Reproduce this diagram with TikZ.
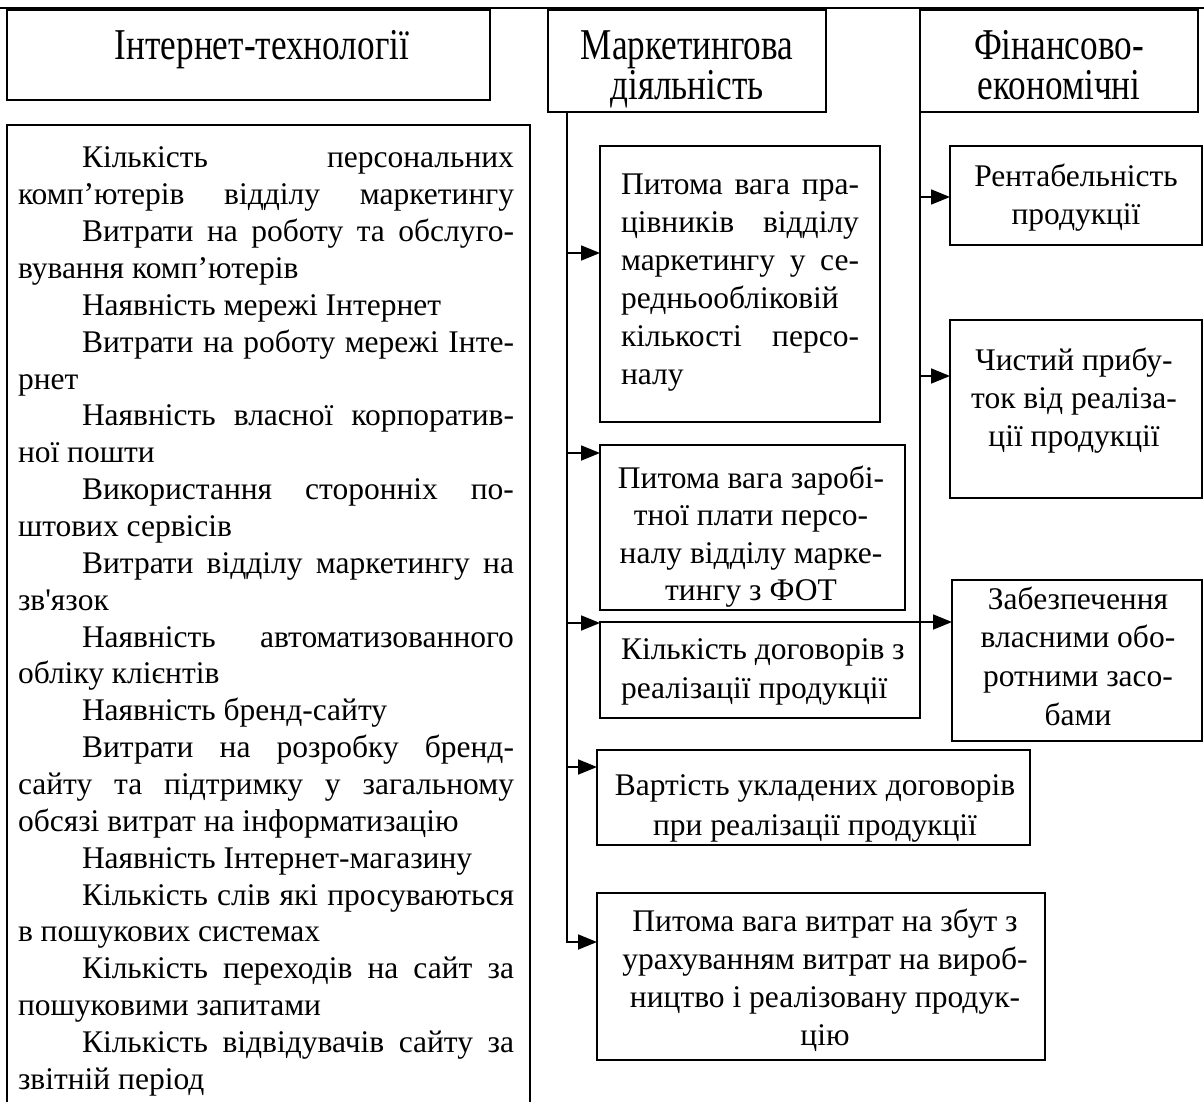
\documentclass[tikz,border=0pt]{standalone}
\usepackage{fontspec}
\setmainfont{Liberation Serif}[Ligatures=TeXOff]
\newfontfamily\ttlfont{Liberation Serif}[FakeStretch=0.8]
\usetikzlibrary{arrows.meta}
\newcommand\mytj[1]{\hbox to \hsize{#1}}
\newcommand\mytij[1]{\hbox to \hsize{\hskip\parindent #1}}
\newcommand\mytl[1]{\hbox to \hsize{#1\hfil}}
\newcommand\mytil[1]{\hbox to \hsize{\hskip\parindent #1\hfil}}
\newcommand\mytc[1]{\hbox to \hsize{\hfil #1\hfil}}
\newcommand\myblk[3]{\vtop{\hsize=#1\baselineskip=#2\lineskiplimit=-1000pt\lineskip=0pt\parindent=64pt #3}}
\begin{document}
\begin{tikzpicture}[x=1pt,y=-1pt,
  box/.style={draw, line width=1.8pt, inner sep=0pt, outer sep=0pt, anchor=north west},
  txt/.style={inner sep=0pt, outer sep=0pt, font=\fontsize{31.5}{38}\selectfont},
  ttl/.style={inner sep=0pt, outer sep=0pt, font=\ttlfont\fontsize{44}{40}\selectfont},
  arr/.style={line width=1.8pt, -{Triangle[length=19pt,width=15pt]}},
  ln/.style={line width=1.8pt}]
\useasboundingbox (0,0) rectangle (1204,1102);
\draw[line width=2.8pt] (0,8) -- (1204,8);
% title boxes
\node[box, minimum width=483pt, minimum height=90pt] (it) at (7,10) {};
\node[box, minimum width=278pt, minimum height=102pt] (mk) at (548,10) {};
\node[box, minimum width=278pt, minimum height=102pt] (fn) at (920,10) {};
\node[ttl, anchor=base] (itt) at (262,60) {Інтернет-технології};
\node[ttl, anchor=base] (mkt) at (687,60) {\myblk{270pt}{40pt}{\mytc{Маркетингова}\mytc{діяльність}}};
\node[ttl, anchor=base] (fnt) at (1059,60) {\myblk{270pt}{40pt}{\mytc{Фінансово-}\mytc{економічні}}};
% left box
\draw[ln] (7,1104) -- (7,125) -- (530,125) -- (530,1104);
\node[txt, anchor=base west] (itx) at (18,168) {\myblk{496pt}{36.85pt}{%
\mytij{Кількість персональних}
\mytj{комп’ютерів відділу маркетингу}
\mytij{Витрати на роботу та обслуго-}
\mytl{вування комп’ютерів}
\mytil{Наявність мережі Інтернет}
\mytij{Витрати на роботу мережі Інте-}
\mytl{рнет}
\mytij{Наявність власної корпоратив-}
\mytl{ної пошти}
\mytij{Використання сторонніх по-}
\mytl{штових сервісів}
\mytij{Витрати відділу маркетингу на}
\mytl{зв'язок}
\mytij{Наявність автоматизованного}
\mytl{обліку клієнтів}
\mytil{Наявність бренд-сайту}
\mytij{Витрати на розробку бренд-}
\mytj{сайту та підтримку у загальному}
\mytl{обсязі витрат на інформатизацію}
\mytil{Наявність Інтернет-магазину}
\mytij{Кількість слів які просуваються}
\mytl{в пошукових системах}
\mytij{Кількість переходів на сайт за}
\mytl{пошуковими запитами}
\mytij{Кількість відвідувачів сайту за}
\mytl{звітній період}}};
% marketing column boxes
\node[box, minimum width=280pt, minimum height=276pt] (m1) at (600,146) {};
\node[box, minimum width=305pt, minimum height=165pt] (m2) at (600,445) {};
\node[box, minimum width=320pt, minimum height=96pt] (m3) at (600,622) {};
\node[box, minimum width=433pt, minimum height=95pt] (m4) at (597,750) {};
\node[box, minimum width=448pt, minimum height=167pt] (m5) at (597,893) {};
\node[txt, anchor=base west] (m1t) at (621,194) {\myblk{238pt}{38pt}{%
\mytj{Питома вага пра-}\mytj{цівників відділу}\mytj{маркетингу у се-}\mytl{редньообліковій}\mytj{кількості персо-}\mytl{налу}}};
\node[txt, anchor=base] (m2t) at (751,488) {\myblk{300pt}{37.5pt}{%
\mytc{Питома вага заробі-}\mytc{тної плати персо-}\mytc{налу відділу марке-}\mytc{тингу з ФОТ}}};
\node[txt, anchor=base west] (m3t) at (621,659) {\myblk{295pt}{39pt}{%
\mytl{Кількість договорів з}\mytl{реалізації продукції}}};
\node[txt, anchor=base] (m4t) at (815,795) {\myblk{425pt}{40pt}{%
\mytc{Вартість укладених договорів}\mytc{при реалізації продукції}}};
\node[txt, anchor=base] (m5t) at (825,931) {\myblk{445pt}{38pt}{%
\mytc{Питома вага витрат на збут з}\mytc{урахуванням витрат на вироб-}\mytc{ництво і реалізовану продук-}\mytc{цію}}};
% finance column boxes
\node[box, minimum width=252pt, minimum height=99pt] (f1) at (950,146) {};
\node[box, minimum width=252pt, minimum height=178pt] (f2) at (950,320) {};
\node[box, minimum width=250pt, minimum height=161pt] (f3) at (952,580) {};
\node[txt, anchor=base] (f1t) at (1076,186) {\myblk{250pt}{38pt}{%
\mytc{Рентабельність}\mytc{продукції}}};
\node[txt, anchor=base] (f2t) at (1074,370) {\myblk{250pt}{38pt}{%
\mytc{Чистий прибу-}\mytc{ток від реаліза-}\mytc{ції продукції}}};
\node[txt, anchor=base] (f3t) at (1078,609) {\myblk{250pt}{38.7pt}{%
\mytc{Забезпечення}\mytc{власними обо-}\mytc{ротними засо-}\mytc{бами}}};
% connectors
\coordinate (mtr) at (567,942);
\coordinate (a1) at (567,253);
\coordinate (a2) at (567,453);
\coordinate (a3) at (567,623);
\coordinate (a4) at (567,767);
\draw[arr] (mk.south -| mtr) |- (m5.west |- mtr);
\draw[arr] (a1) -- (a1 -| m1.west);
\draw[arr] (a2) -- (a2 -| m2.west);
\draw[arr] (a3) -- (a3 -| m3.west);
\draw[arr] (a4) -- (a4 -| m4.west);
\coordinate (ftr) at (920,622);
\coordinate (b1) at (920,197);
\coordinate (b2) at (920,376);
\draw[arr] (fn.south west) |- (f3.west |- ftr);
\draw[arr] (b1) -- (b1 -| f1.west);
\draw[arr] (b2) -- (b2 -| f2.west);
\end{tikzpicture}
\end{document}
